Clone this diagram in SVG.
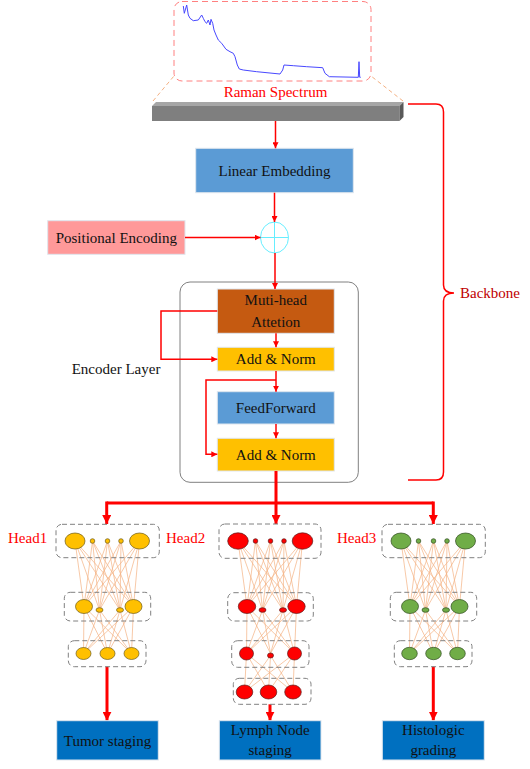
<svg xmlns="http://www.w3.org/2000/svg" xmlns:xlink="http://www.w3.org/1999/xlink" width="530" height="769" viewBox="0 0 530 769" font-family="'Liberation Serif', 'DejaVu Serif', serif">
<style>
.t{font-family:'Liberation Serif','DejaVu Serif','Noto Serif',serif;font-size:15px;fill:#111;text-anchor:middle}
.red{fill:#FF0000}
.ln{stroke:#FF0000;stroke-width:1.5;fill:none}
.thk{stroke:#FF0000;stroke-width:3;fill:none}
.fc{stroke:#F4B183;stroke-width:0.7;fill:none}
.dbox{fill:none;stroke:#808080;stroke-width:1;stroke-dasharray:5,3}
.ny{fill:#FFC000;stroke:#6b5a1a;stroke-width:0.7}
.nr{fill:#FF0000;stroke:#5a1a1a;stroke-width:0.7}
.ng{fill:#70AD47;stroke:#2f4a20;stroke-width:0.7}
.box{stroke:#dfe6ee;stroke-width:1}
</style>
<defs>
<marker id="a" viewBox="0 0 10 10" markerWidth="6" markerHeight="6" refX="10" refY="5" orient="auto" markerUnits="userSpaceOnUse"><path d="M0,0L10,5L0,10z" fill="#FF0000"/></marker>
<marker id="A" viewBox="0 0 10 10" markerWidth="9" markerHeight="9" refX="10" refY="5" orient="auto" markerUnits="userSpaceOnUse"><path d="M0,0L10,5L0,10z" fill="#FF0000"/></marker>
<path id="fcAB" class="fc" d="M75 541L84 606.5M75 541L99.5 610M75 541L120 610M75 541L133.5 606.5M92.5 541L84 606.5M92.5 541L99.5 610M92.5 541L120 610M92.5 541L133.5 606.5M107.5 541L84 606.5M107.5 541L99.5 610M107.5 541L120 610M107.5 541L133.5 606.5M121 541L84 606.5M121 541L99.5 610M121 541L120 610M121 541L133.5 606.5M139.5 541L84 606.5M139.5 541L99.5 610M139.5 541L120 610M139.5 541L133.5 606.5"/>
<path id="fcBC" class="fc" d="M84 606.5L83.5 653.5M84 606.5L107.5 653.5M84 606.5L131.5 653.5M99.5 610L83.5 653.5M99.5 610L107.5 653.5M99.5 610L131.5 653.5M120 610L83.5 653.5M120 610L107.5 653.5M120 610L131.5 653.5M133.5 606.5L83.5 653.5M133.5 606.5L107.5 653.5M133.5 606.5L131.5 653.5"/>
</defs>
<rect width="530" height="769" fill="#fff"/>

<g id="spectrum">
<rect x="174" y="1.5" width="197" height="79.5" rx="8" fill="none" stroke="#FF8080" stroke-width="1" stroke-dasharray="6,4"/>
<path d="M183.3,6L184.3,13.3L186.7,5L188.3,15L190,18.3L193.3,20.7L198.3,20L201.7,15L203.3,18.3L205,21.7L206.7,23.3L208.3,20L210,25L211,19.3L212.7,23.3L214,30L216,35L218.3,40L221.7,43.3L226,49.3L230,51.7L233.3,53.3L235,56.7L237.3,65L239.3,69L243.3,70L256.7,71.7L280,74L282.7,70L284,65L293.3,65.7L306.7,66.7L322.7,67.7L325,73.3L329.3,76.7L358.3,77.3L359,61.7L359.7,77.3L360.7,77.3" fill="none" stroke="#4848FF" stroke-width="1"/>
<path d="M153,101L174,76M403,101L371,76" stroke="#F4B183" stroke-width="1" stroke-dasharray="4,3" fill="none"/>
<text class="t red" x="275.5" y="97">Raman Spectrum</text>
</g>
<g id="bar">
<path d="M152,106L156,102L403.5,102L399.5,106Z" fill="#A6A6A6"/>
<rect x="152" y="106" width="247.5" height="15" fill="#7F7F7F"/>
<path d="M399.5,106L403.5,102L403.5,117L399.5,121Z" fill="#595959"/>
</g>

<g id="linear-embedding">
<rect class="box" x="195.7" y="148.3" width="157.6" height="44.4" fill="#5B9BD5"/>
<text class="t" x="274.5" y="176">Linear Embedding</text>
</g>
<g id="positional-encoding">
<rect class="box" x="47.7" y="220.7" width="137.3" height="33.6" fill="#FF9999"/>
<text class="t" x="116.3" y="243">Positional Encoding</text>
</g>
<g id="add-op">
<ellipse cx="274.5" cy="237.5" rx="14" ry="15.5" fill="none" stroke="#66EEFF" stroke-width="1"/>
<path d="M260.5,237.5H288.5M274.5,222V253" stroke="#66EEFF" stroke-width="1"/>
</g>

<g id="encoder-layer">
<rect x="180" y="282" width="178.3" height="200.3" rx="10" fill="none" stroke="#808080" stroke-width="1"/>
<text class="t" x="71.7" y="374" style="text-anchor:start">Encoder Layer</text>
</g>
<g id="mha">
<rect class="box" x="217.3" y="289" width="117" height="44.3" fill="#C55A11"/>
<text class="t" x="275.8" y="305">Muti-head</text>
<text class="t" x="275.8" y="326.5">Attetion</text>
</g>
<g id="addnorm1">
<rect class="box" x="217.3" y="347.3" width="117" height="23.7" fill="#FFC000"/>
<text class="t" x="275.8" y="364.3">Add &amp; Norm</text>
</g>
<g id="feedforward">
<rect class="box" x="217.3" y="391.7" width="117" height="32.3" fill="#5B9BD5"/>
<text class="t" x="275.8" y="413">FeedForward</text>
</g>
<g id="addnorm2">
<rect class="box" x="217.3" y="438.3" width="117" height="32.7" fill="#FFC000"/>
<text class="t" x="275.8" y="460">Add &amp; Norm</text>
</g>

<g id="backbone">
<path class="ln" d="M408,104H436Q443.5,104 443.5,112V285Q443.5,293 454,293Q443.5,293 443.5,301V472Q443.5,480 436,480H408"/>
<text class="t" x="460" y="298" style="text-anchor:start;fill:#C00000">Backbone</text>
</g>

<text class="t red" x="8" y="542.5" style="text-anchor:start">Head1</text>
<text class="t red" x="166" y="542.5" style="text-anchor:start">Head2</text>
<text class="t red" x="337" y="542.5" style="text-anchor:start">Head3</text>

<g id="connectors">
<line class="ln" x1="275.5" y1="121" x2="275.5" y2="148.3" marker-end="url(#a)"/>
<line class="ln" x1="274.5" y1="192.7" x2="274.5" y2="222" marker-end="url(#a)"/>
<line class="ln" x1="185" y1="237.5" x2="260.5" y2="237.5" marker-end="url(#a)"/>
<line class="ln" x1="275" y1="253" x2="275" y2="289" marker-end="url(#a)"/>
<line class="ln" x1="276" y1="333.3" x2="276" y2="347.3" marker-end="url(#a)"/>
<line class="ln" x1="276" y1="371" x2="276" y2="391.7" marker-end="url(#a)"/>
<line class="ln" x1="276" y1="424" x2="276" y2="438.3" marker-end="url(#a)"/>
<path class="ln" d="M217.3,311H161V359.3H217.3" marker-end="url(#a)"/>
<path class="ln" d="M276,380H206V454.3H217.3" marker-end="url(#a)"/>
<path class="thk" d="M276,471V503M106.7,503H433.3"/>
<line class="thk" x1="106.7" y1="501.5" x2="106.7" y2="524" marker-end="url(#A)"/>
<line class="thk" x1="276" y1="503" x2="276" y2="524" marker-end="url(#A)"/>
<line class="thk" x1="433.3" y1="501.5" x2="433.3" y2="524" marker-end="url(#A)"/>
<line class="thk" x1="107" y1="666.7" x2="107" y2="720.7" marker-end="url(#A)"/>
<line class="thk" x1="270" y1="704.3" x2="270" y2="720.7" marker-end="url(#A)"/>
<line class="thk" x1="433.3" y1="666.7" x2="433.3" y2="720.7" marker-end="url(#A)"/>
<use href="#fcAB"/>
<use href="#fcBC"/>
<use href="#fcAB" transform="translate(163,0)"/>
<use href="#fcBC" transform="translate(163,0)"/>
<path class="fc" d="M246.5 653.5L244.5 692M246.5 653.5L268.5 692M246.5 653.5L293 692M270.5 655.5L244.5 692M270.5 655.5L268.5 692M270.5 655.5L293 692M294.5 653.5L244.5 692M294.5 653.5L268.5 692M294.5 653.5L293 692"/>
<use href="#fcAB" transform="translate(326,0)"/>
<use href="#fcBC" transform="translate(326,0)"/>
</g>

<g id="head1">
<rect class="dbox" x="56" y="524.3" width="103.3" height="33.4" rx="6"/>
<rect class="dbox" x="64.3" y="592.3" width="86.4" height="28.7" rx="6"/>
<rect class="dbox" x="68.3" y="640.7" width="77.7" height="26" rx="6"/>
<g class="ny">
<ellipse cx="75" cy="541" rx="10" ry="8"/><circle cx="92.5" cy="541" r="2.3"/><circle cx="107.5" cy="541" r="2.3"/><circle cx="121" cy="541" r="2.3"/><ellipse cx="139.5" cy="541" rx="10" ry="8"/>
<ellipse cx="84" cy="606.5" rx="8.5" ry="7"/><ellipse cx="99.5" cy="610" rx="3.5" ry="2.3"/><ellipse cx="120" cy="610" rx="3.5" ry="2.3"/><ellipse cx="133.5" cy="606.5" rx="8.5" ry="7"/>
<ellipse cx="83.5" cy="653.5" rx="7.5" ry="6"/><ellipse cx="107.5" cy="653.5" rx="7.5" ry="6"/><ellipse cx="131.5" cy="653.5" rx="7.5" ry="6"/>
</g>
</g>

<g id="head2">
<rect class="dbox" x="219" y="524" width="102" height="34.3" rx="6"/>
<rect class="dbox" x="227.7" y="592.7" width="85.6" height="28.3" rx="6"/>
<rect class="dbox" x="231.7" y="640.7" width="77.3" height="26.6" rx="6"/>
<rect class="dbox" x="233.3" y="678.3" width="77.7" height="26" rx="6"/>
<g class="nr">
<ellipse cx="238" cy="541" rx="10.3" ry="8.2"/><circle cx="255.5" cy="541" r="2.3"/><circle cx="270.5" cy="541" r="2.3"/><circle cx="284" cy="541" r="2.3"/><ellipse cx="302.5" cy="541" rx="10.3" ry="8.2"/>
<ellipse cx="247" cy="606.5" rx="8.7" ry="7"/><ellipse cx="262.5" cy="610" rx="3.5" ry="2.3"/><ellipse cx="283" cy="610" rx="3.5" ry="2.3"/><ellipse cx="296.5" cy="606.5" rx="8.7" ry="7"/>
<ellipse cx="246.5" cy="653.5" rx="7" ry="6.5"/><ellipse cx="270.5" cy="655.5" rx="3" ry="2.5"/><ellipse cx="294.5" cy="653.5" rx="7" ry="6.5"/>
<ellipse cx="244.5" cy="692" rx="8.3" ry="7"/><ellipse cx="268.5" cy="692" rx="8.3" ry="7"/><ellipse cx="293" cy="692" rx="8.3" ry="7"/>
</g>
</g>

<g id="head3">
<rect class="dbox" x="382" y="524.3" width="103.3" height="33.4" rx="6"/>
<rect class="dbox" x="390.3" y="592.3" width="86.4" height="28.7" rx="6"/>
<rect class="dbox" x="394.3" y="640.7" width="77.7" height="26" rx="6"/>
<g class="ng">
<ellipse cx="401" cy="541" rx="10" ry="8"/><circle cx="418.5" cy="541" r="2.3"/><circle cx="433.5" cy="541" r="2.3"/><circle cx="447" cy="541" r="2.3"/><ellipse cx="465.5" cy="541" rx="10" ry="8"/>
<ellipse cx="410" cy="606.5" rx="8.5" ry="7"/><ellipse cx="425.5" cy="610" rx="3.5" ry="2.3"/><ellipse cx="446" cy="610" rx="3.5" ry="2.3"/><ellipse cx="459.5" cy="606.5" rx="8.5" ry="7"/>
<ellipse cx="409.5" cy="653.5" rx="7.8" ry="6.2"/><ellipse cx="433.5" cy="653.5" rx="7.8" ry="6.2"/><ellipse cx="457.5" cy="653.5" rx="7.8" ry="6.2"/>
</g>
</g>

<g id="tumor-staging">
<rect class="box" x="56.7" y="720.7" width="101.6" height="39.3" fill="#0070C0"/>
<text class="t" x="107.5" y="745.5">Tumor staging</text>
</g>
<g id="lymph-node-staging">
<rect class="box" x="219.3" y="720.7" width="101.7" height="39.3" fill="#0070C0"/>
<text class="t" x="270.2" y="735">Lymph Node</text>
<text class="t" x="270.2" y="755">staging</text>
</g>
<g id="histologic-grading">
<rect class="box" x="382.3" y="720.7" width="102" height="39.3" fill="#0070C0"/>
<text class="t" x="433.3" y="735">Histologic</text>
<text class="t" x="433.3" y="755">grading</text>
</g>
</svg>
